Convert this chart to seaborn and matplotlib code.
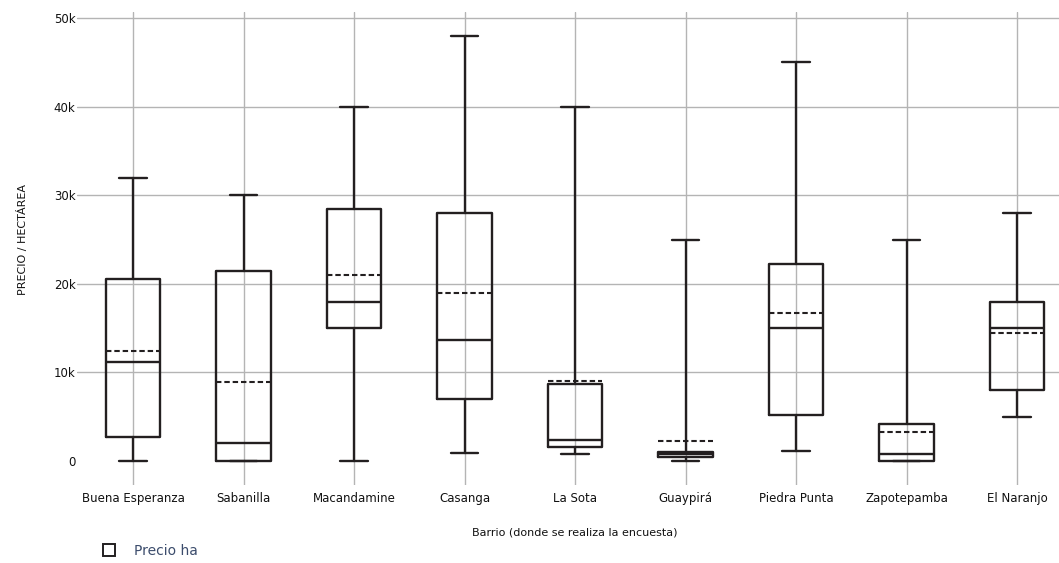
import numpy as np
import matplotlib
matplotlib.use("Agg")
import matplotlib.pyplot as plt
import seaborn as sns
from matplotlib.patches import Patch
from matplotlib.ticker import FuncFormatter

# summary statistics (precio por hectárea)
barrios = ["Buena Esperanza", "Sabanilla", "Macandamine", "Casanga", "La Sota",
           "Guaypirá", "Piedra Punta", "Zapotepamba", "El Naranjo"]
whisker_low = [0, 0, 0, 900, 800, 0, 1100, 0, 5000]
q1 = [2700, 0, 15000, 7000, 1600, 500, 5200, 0, 8000]
median = [11200, 2000, 18000, 13700, 2400, 800, 15000, 800, 15000]
q3 = [20500, 21400, 28400, 28000, 8700, 1000, 22200, 4200, 18000]
whisker_high = [32000, 30000, 40000, 48000, 40000, 25000, 45000, 25000, 28000]
mean = [12400, 8900, 21000, 19000, 9000, 2300, 16700, 3300, 14400]

ink = "#231f20"

sns.set_style("whitegrid")
plt.rcParams["font.family"] = ["DejaVu Sans"]

fig = plt.figure(figsize=(10.59, 5.63), dpi=100)
ax = fig.add_axes([0.0727, 0.1385, 0.9273, 0.84])

stats = []
for i, name in enumerate(barrios):
    stats.append({
        "label": name,
        "whislo": whisker_low[i], "q1": q1[i], "med": median[i],
        "q3": q3[i], "whishi": whisker_high[i], "mean": mean[i],
        "fliers": [],
    })

line = dict(color=ink, linewidth=1.7)
ax.bxp(stats, positions=range(len(barrios)), widths=0.49, showmeans=True,
       meanline=True, showfliers=False, patch_artist=False,
       boxprops=line, whiskerprops=line, capprops=line,
       medianprops=dict(color=ink, linewidth=1.7),
       meanprops=dict(color=ink, linewidth=1.5, linestyle=(0, (2.6, 1.4))),
       capwidths=0.25, zorder=3)

ax.set_xlim(-0.507, 8.38)
ax.set_ylim(-2710, 50680)
ax.set_yticks([0, 10000, 20000, 30000, 40000, 50000])
ax.yaxis.set_major_formatter(FuncFormatter(lambda v, p: "0" if v == 0 else f"{int(v/1000)}k"))
ax.set_xticks(range(len(barrios)))
ax.set_xticklabels(barrios)

ax.grid(True, color="#b4b4b4", linewidth=1.0)
ax.get_ygridlines()[0].set_visible(False)
for s in ax.spines.values():
    s.set_visible(False)
ax.tick_params(axis="x", length=0, pad=5, labelsize=8.5, colors="#111111")
ax.tick_params(axis="y", length=0, pad=1, labelsize=8.5, colors="#111111")
ax.set_facecolor("white")

ax.set_ylabel("PRECIO / HECTÁREA", fontsize=8, color="#111111")
ax.yaxis.set_label_coords(-0.05, 0.52)
ax.set_xlabel("Barrio (donde se realiza la encuesta)", fontsize=8, color="#111111")
ax.xaxis.set_label_coords(0.507, -0.089)

handle = Patch(facecolor="white", edgecolor=ink, linewidth=1.4)
fig.legend([handle], ["Precio ha"], loc="lower left", bbox_to_anchor=(0.085, -0.013),
           frameon=False, fontsize=10, handlelength=0.9, handleheight=0.9,
           handletextpad=1.4, labelcolor="#3b4c6c")

fig.savefig("out.png", dpi=100)
